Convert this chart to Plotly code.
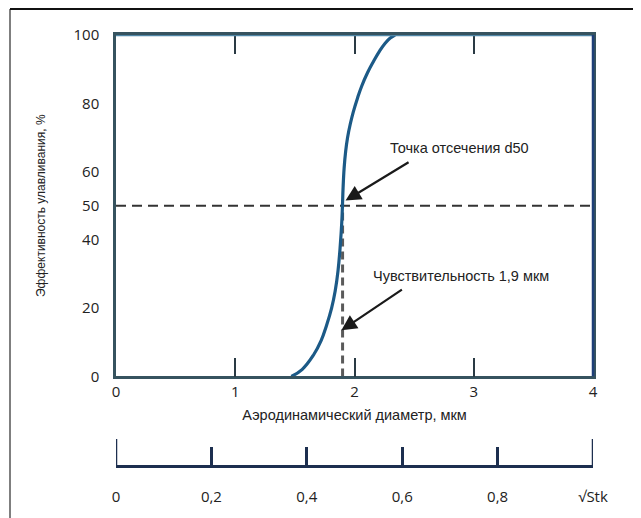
import plotly.graph_objects as go

# Data
diam = [1.47, 1.56, 1.655, 1.72, 1.766, 1.808, 1.838, 1.862, 1.881, 1.893, 1.899, 1.904, 1.913, 1.926,
        1.942, 1.965, 1.99, 2.025, 2.06, 2.11, 2.16, 2.21, 2.257, 2.30, 2.34]
eff = [0, 2.0, 6.2, 10.5, 15, 20, 25, 31, 38.5, 45, 50, 55, 61, 66,
       70, 74, 77.5, 81.5, 85, 89, 92.3, 95.3, 97.6, 99.1, 100]

x_ticks = [0, 1, 2, 3, 4]
y_ticks = [0, 20, 40, 50, 60, 80, 100]
stk_ticks = [0, 0.2, 0.4, 0.6, 0.8, 1.0]
stk_labels = ["0", "0,2", "0,4", "0,6", "0,8", "√Stk"]

d50 = 1.9
cut_level = 50

# page body has an 8px margin; compensate so the figure lands where the reference is
OFF = 8
W, H = 641 - OFF, 518 - OFF
ml, mr, mt, mb = 116 - OFF, 48, 35 - OFF, 50
plot_bottom = 378 - OFF
paper_h = H - mt - mb
paper_w = W - ml - mr
y_dom0 = (H - mb - plot_bottom) / paper_h

axis_col = "#36535f"
top_col = "#4f86a6"
right_col = "#1f3f78"
stk_col = "#1d2f4f"
txt_col = "#222222"
font_num = "Open Sans"
font_txt = "Liberation Sans"

fig = go.Figure()

# 50% dashed line
fig.add_trace(go.Scatter(x=[x_ticks[0], x_ticks[-1]], y=[cut_level, cut_level], mode="lines",
                         line=dict(color="#333333", width=2, dash="10px,6px"), hoverinfo="skip",
                         showlegend=False))
# vertical dashed line at d50
fig.add_trace(go.Scatter(x=[d50, d50], y=[0, cut_level], mode="lines",
                         line=dict(color="#5a5a5a", width=3, dash="8px,5px"), hoverinfo="skip",
                         showlegend=False))
# efficiency curve
fig.add_trace(go.Scatter(x=diam, y=eff, mode="lines",
                         line=dict(color="#1c5a87", width=3.2, shape="spline", smoothing=1.2),
                         showlegend=False))
# invisible trace to carry the sqrt(Stk) axis
fig.add_trace(go.Scatter(x=stk_ticks, y=[None] * len(stk_ticks), xaxis="x2", yaxis="y", mode="lines",
                         showlegend=False, hoverinfo="skip"))

fig.update_layout(
    width=W, height=H,
    margin=dict(l=ml, r=mr, t=mt, b=mb),
    paper_bgcolor="white", plot_bgcolor="white",
    showlegend=False,
    xaxis=dict(range=[0, 4], tickvals=x_ticks, ticks="inside", ticklen=19, tickwidth=2,
               tickcolor="#2a3a44", showline=True, linecolor=axis_col, linewidth=2.5, mirror="ticks",
               showgrid=False, zeroline=False, anchor="y",
               tickfont=dict(family=font_num, size=15, color=txt_col),
               title=dict(text="Аэродинамический диаметр, мкм", standoff=10,
                          font=dict(family=font_txt, size=14.5, color=txt_col))),
    yaxis=dict(range=[0, 100], domain=[y_dom0, 1], tickvals=y_ticks, ticks="", showline=True,
               linecolor=axis_col, linewidth=2.5, mirror=True, showgrid=False, zeroline=False,
               ticklabelstandoff=11,
               tickfont=dict(family=font_num, size=15, color=txt_col),
               title=dict(text="Эффективность улавливания, %", standoff=26,
                          font=dict(family=font_txt, size=12, color=txt_col))),
    xaxis2=dict(range=[0, 1], anchor="free", position=0, overlaying="x", tickvals=stk_ticks,
                ticktext=stk_labels, ticks="inside", ticklen=18, tickwidth=2.5, tickcolor=stk_col,
                showline=True, linecolor=stk_col, linewidth=2.5, showgrid=False, zeroline=False,
                ticklabelstandoff=16,
                tickfont=dict(family=font_num, size=15, color=txt_col)),
)

# top and right edges of the plot frame in their own colours
fig.add_shape(type="line", xref="paper", yref="y", x0=0, x1=1, y0=100, y1=100,
              line=dict(color=top_col, width=2.5), layer="above")
fig.add_shape(type="line", xref="paper", yref="y", x0=1, x1=1, y0=0, y1=100,
              line=dict(color=right_col, width=2.5), layer="above")

# taller end ticks of the sqrt(Stk) scale
for xv in (stk_ticks[0], stk_ticks[-1]):
    fig.add_shape(type="line", xref="x2", yref="paper", x0=xv, x1=xv, y0=0, y1=27 / paper_h,
                  line=dict(color=stk_col, width=2.5))

# outer frame (top and left edges)
fx = (10 - OFF - ml) / paper_w
fy = 1 + (mt - (8 - OFF) - 1) / paper_h
fig.add_shape(type="line", xref="paper", yref="paper", x0=fx, x1=fx, y0=-0.2, y1=fy,
              line=dict(color="#555555", width=1.5))
fig.add_shape(type="line", xref="paper", yref="paper", x0=fx, x1=1.2, y0=fy, y1=fy,
              line=dict(color="#111111", width=2))

# annotations
fig.add_annotation(x=2.88, y=67, xref="x", yref="y", text="Точка отсечения d50", showarrow=False,
                   font=dict(family=font_txt, size=14.5, color=txt_col))
fig.add_annotation(x=1.925, y=51.5, ax=2.466, ay=63, xref="x", yref="y", axref="x", ayref="y",
                   text="", showarrow=True, arrowhead=2, arrowsize=1.4, arrowwidth=2.2, arrowcolor="#1a1a1a")
fig.add_annotation(x=2.89, y=29.4, xref="x", yref="y", text="Чувствительность 1,9 мкм", showarrow=False,
                   font=dict(family=font_txt, size=14.5, color=txt_col))
fig.add_annotation(x=1.89, y=13.5, ax=2.41, ay=25.7, xref="x", yref="y", axref="x", ayref="y",
                   text="", showarrow=True, arrowhead=2, arrowsize=1.4, arrowwidth=2.2, arrowcolor="#1a1a1a")

fig.write_html("out.html")
